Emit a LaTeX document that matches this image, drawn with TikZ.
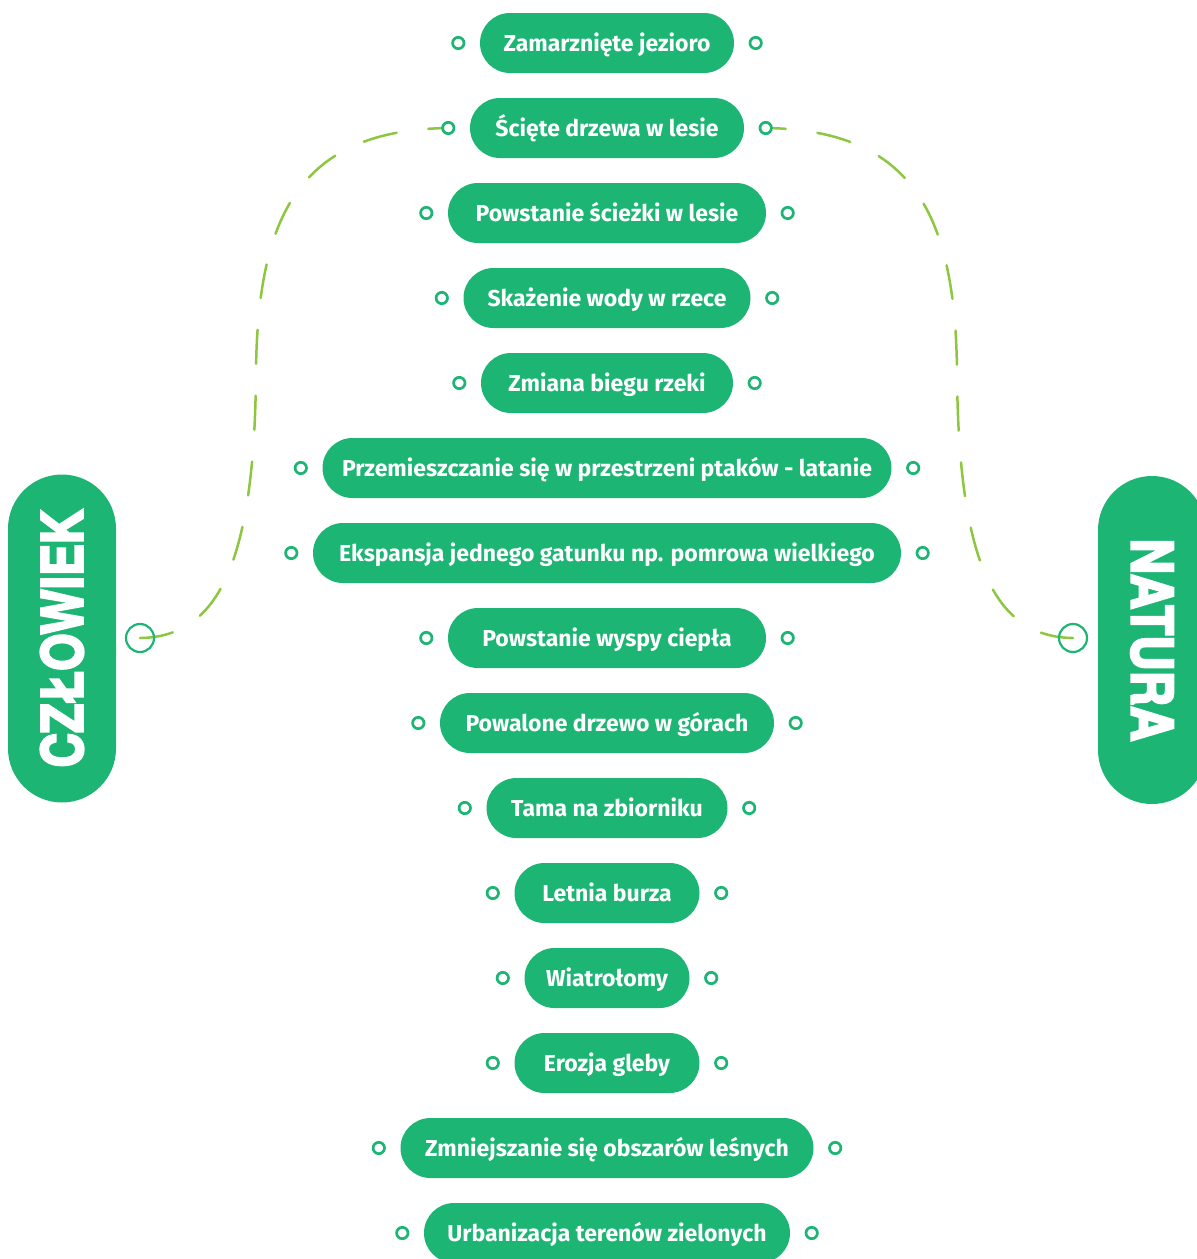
\documentclass[tikz,border=0pt]{standalone}
\usepackage{fontspec}
\setmainfont{Fira Sans}
\newfontfamily\bigfont{TeX Gyre Heros}
\usepackage{graphicx}
\definecolor{pillgreen}{RGB}{29,181,116}
\definecolor{dashgreen}{RGB}{141,198,63}
\newcommand\heavytext[1]{\special{pdf:literal direct 2 Tr 2.4 w}#1\special{pdf:literal direct 0 Tr}}
\pgfdeclarelayer{bg}
\pgfsetlayers{bg,main}
\begin{document}
\begin{tikzpicture}[x=1pt,y=-1pt,
  pill/.style={fill=pillgreen, text=white, rounded corners=30pt, minimum height=60pt,
    inner xsep=0pt, inner ysep=0pt, text height=19pt, text depth=2.4pt,
    font=\fontsize{23}{23}\selectfont\bfseries},
  dot/.style={circle, draw=pillgreen, fill=white, line width=2.7pt, minimum size=11.4pt, inner sep=0pt},
  bigdot/.style={circle, draw=pillgreen, line width=2.2pt, minimum size=28pt, inner sep=0pt},
  bigpill/.style={fill=pillgreen, text=white, minimum width=328pt, minimum height=108pt,
    rounded corners=54pt, inner sep=0pt},
  link/.style={draw=dashgreen, line width=2.5pt, line cap=round, dash pattern=on 34pt off 32pt, dash phase=14pt}]
\useasboundingbox (0,0) rectangle (1197,1259);
\foreach \i/\w/\t in {1/254/Zamarznięte jezioro, 2/274/Ścięte drzewa w lesie, 3/318/Powstanie ścieżki w lesie,
  4/287/Skażenie wody w rzece, 5/252/Zmiana biegu rzeki, 6/569/Przemieszczanie się w przestrzeni ptaków - latanie,
  7/588/Ekspansja jednego gatunku np. pomrowa wielkiego, 8/318/Powstanie wyspy ciepła, 9/334/Powalone drzewo w górach,
  10/241/Tama na zbiorniku, 11/185/Letnia burza, 12/165/Wiatrołomy, 13/185/Erozja gleby,
  14/413/Zmniejszanie się obszarów leśnych, 15/366/Urbanizacja terenów zielonych}{
  \node[pill, minimum width=\w pt] (p\i) at (607,{43+85*(\i-1)}) {\t};
  \node[dot] (l\i) at ([xshift=-21.5pt]p\i.west) {};
  \node[dot] (r\i) at ([xshift=21.5pt]p\i.east) {};
}
\node[bigpill, rotate=90] (czl) at (62,638.5) {\bigfont\bfseries\fontsize{57}{57}\selectfont\scalebox{0.84}[1]{\heavytext{CZŁOWIEK}}};
\node[bigpill, rotate=-90] (nat) at (1152,640) {\bigfont\bfseries\fontsize{57}{57}\selectfont\scalebox{0.86}[1]{\heavytext{NATURA}}};
\node[bigdot] (cl) at (140,638) {};
\node[bigdot] (cr) at (1073,638) {};
\begin{pgfonlayer}{bg}
\draw[link] (l2.center) .. controls (300,130) and (258,215) .. (256,370)
  .. controls (255,570) and (215,637) .. (cl.center);
\draw[link] (r2.center) .. controls (913,130) and (955,215) .. (957,370)
  .. controls (958,570) and (998,637) .. (cr.center);
\end{pgfonlayer}
\end{tikzpicture}
\end{document}
